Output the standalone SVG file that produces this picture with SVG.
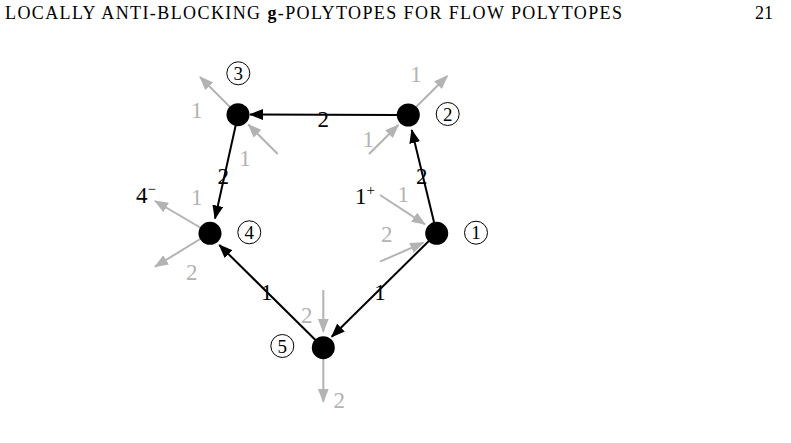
<svg xmlns="http://www.w3.org/2000/svg" width="791" height="443" viewBox="0 0 791 443">
<defs>
<marker id="ab" viewBox="0 0 14 11" refX="13" refY="5.5" markerWidth="14" markerHeight="11" orient="auto" markerUnits="userSpaceOnUse"><path d="M0,0 L14,5.5 L0,11 z" fill="#000"/></marker>
<marker id="ag" viewBox="0 0 14 11" refX="13" refY="5.5" markerWidth="14" markerHeight="11" orient="auto" markerUnits="userSpaceOnUse"><path d="M0,0 L14,5.5 L0,11 z" fill="#b3b3b3"/></marker>
</defs>
<style>
.t{font-family:"Liberation Serif","DejaVu Serif",serif;}
.hd{font-size:18px;fill:#000;}
.lb{font-size:23px;fill:#000;text-anchor:middle;}
.lg{font-size:23px;fill:#b3b3b3;text-anchor:middle;}
.e{stroke:#000;stroke-width:2;fill:none;marker-end:url(#ab);}
.g{stroke:#b3b3b3;stroke-width:2;fill:none;marker-end:url(#ag);}
.nd{fill:#000;}
.cl{fill:none;stroke:#000;stroke-width:1;}
.cd{font-size:19px;fill:#000;text-anchor:middle;}
</style>
<rect width="791" height="443" fill="#fff"/>
<text class="t hd" x="5" y="19" textLength="617" lengthAdjust="spacing">LOCALLY ANTI-BLOCKING <tspan font-weight="bold">g</tspan>-POLYTOPES FOR FLOW POLYTOPES</text>
<text class="t hd" x="755" y="19">21</text>

<g id="connectors">
<line class="e" x1="397" y1="115" x2="250" y2="114.5"/>
<line class="e" x1="436.7" y1="233.3" x2="411.7" y2="130"/>
<line class="e" x1="238" y1="115" x2="215" y2="218.5"/>
<line class="e" x1="323.3" y1="347.7" x2="219.3" y2="245"/>
<line class="e" x1="436.7" y1="233.3" x2="331.7" y2="336.7"/>
<text class="t lb" x="323.3" y="127">2</text>
<text class="t lb" x="421.7" y="183.5">2</text>
<text class="t lb" x="223.3" y="183.5">2</text>
<text class="t lb" x="266.7" y="300">1</text>
<text class="t lb" x="380" y="300">1</text>

<line class="g" x1="230" y1="107" x2="200" y2="77"/>
<text class="t lg" x="196.7" y="118.3">1</text>
<line class="g" x1="277.7" y1="154" x2="248.3" y2="124.5"/>
<text class="t lg" x="245" y="166">1</text>
<line class="g" x1="416" y1="107" x2="447.3" y2="76"/>
<text class="t lg" x="416" y="82.3">1</text>
<line class="g" x1="369" y1="154" x2="398.3" y2="125"/>
<text class="t lg" x="368.3" y="147.3">1</text>
<line class="g" x1="201" y1="228" x2="155" y2="201"/>
<text class="t lg" x="196.7" y="205">1</text>
<text class="t lb" x="146" y="203.3">4<tspan font-size="15" dy="-9">−</tspan></text>
<line class="g" x1="201" y1="238.5" x2="155" y2="266.7"/>
<text class="t lg" x="191.7" y="280">2</text>
<line class="g" x1="380" y1="195" x2="425" y2="224.3"/>
<text class="t lg" x="403.3" y="201.7">1</text>
<text class="t lb" x="365" y="204.3">1<tspan font-size="15" dy="-9">+</tspan></text>
<line class="g" x1="380" y1="261.7" x2="423.3" y2="242.7"/>
<text class="t lg" x="386.7" y="241.7">2</text>
<line class="g" x1="323.3" y1="290" x2="323.3" y2="331.7"/>
<text class="t lg" x="306.7" y="322.7">2</text>
<line class="g" x1="323.3" y1="358" x2="323.3" y2="401.7"/>
<text class="t lg" x="339.3" y="408.3">2</text>
</g>

<g id="n1"><circle class="nd" cx="436.7" cy="233.3" r="11.5"/><circle class="cl" cx="476" cy="232.7" r="11.5"/><text class="t cd" x="476" y="239.2">1</text></g>
<g id="n2"><circle class="nd" cx="408.3" cy="115" r="11.5"/><circle class="cl" cx="447.7" cy="114" r="11.5"/><text class="t cd" x="447.7" y="120.5">2</text></g>
<g id="n3"><circle class="nd" cx="238" cy="114.7" r="11.5"/><circle class="cl" cx="238.3" cy="73.3" r="11.5"/><text class="t cd" x="238.3" y="79.8">3</text></g>
<g id="n4"><circle class="nd" cx="210" cy="233.3" r="11.5"/><circle class="cl" cx="249.3" cy="232.3" r="11.5"/><text class="t cd" x="249.3" y="238.8">4</text></g>
<g id="n5"><circle class="nd" cx="323.3" cy="347.7" r="11.5"/><circle class="cl" cx="282.3" cy="346" r="11.5"/><text class="t cd" x="282.3" y="352.5">5</text></g>
</svg>
